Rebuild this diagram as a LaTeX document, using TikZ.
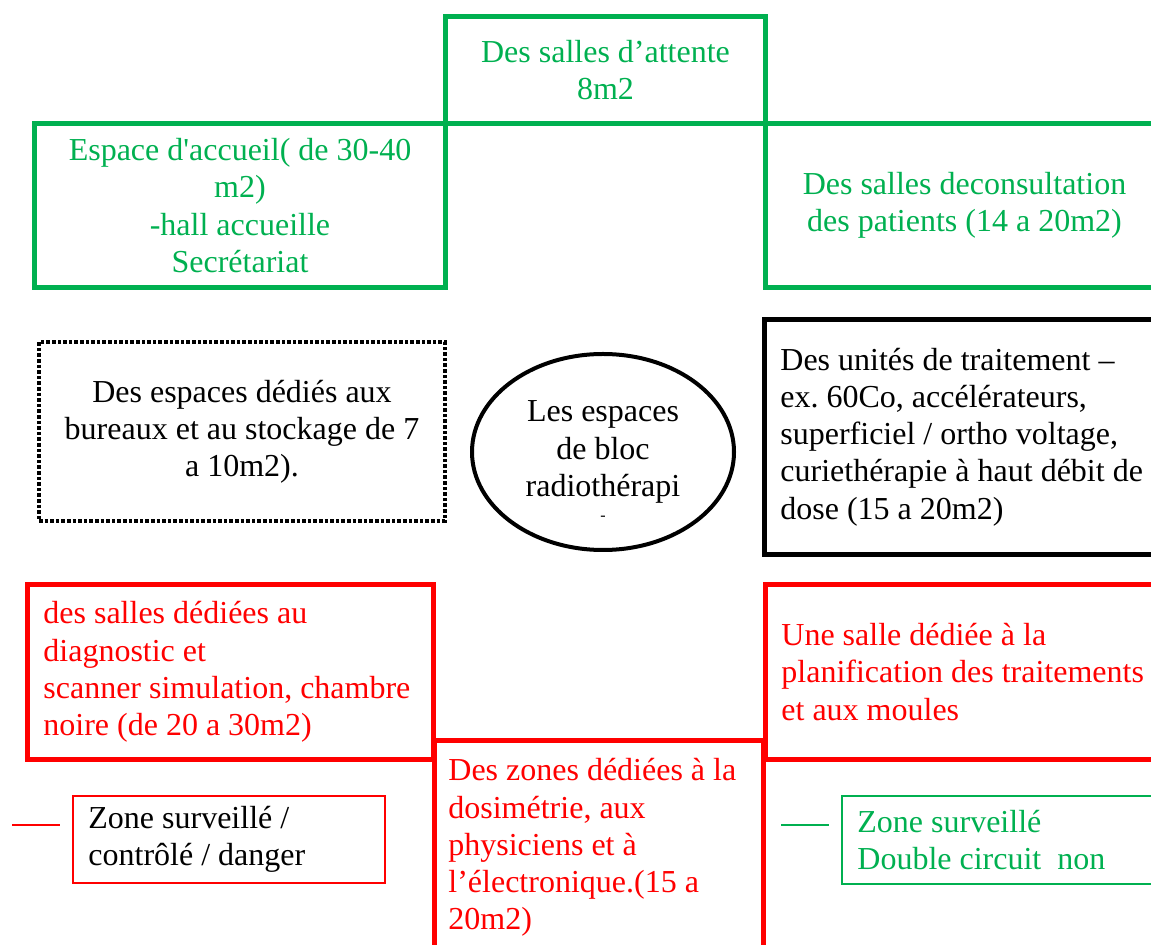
\documentclass[tikz,border=0pt]{standalone}
\usepackage{fontspec}
\setmainfont{Liberation Serif}
\usepackage{tikz}
\usetikzlibrary{shapes.geometric}
\definecolor{vert}{RGB}{0,176,80}
\definecolor{rouge}{RGB}{255,0,0}
\frenchspacing
\tikzset{every picture/.append style={x=0.5pt, y=-0.5pt}}
\tikzset{txt/.style={font=\fontsize{16}{18.6}\selectfont, inner sep=0pt}}
\tikzset{room/.style={txt, rectangle, line width=2.5pt, anchor=north west, align=center}}
\tikzset{roomtext/.style={txt, anchor=west, align=left}}
\tikzset{keybox/.style={rectangle, line width=0.75pt, anchor=north west}}
\tikzset{keyline/.style={line width=1pt}}

\begin{document}
\begin{tikzpicture}
\useasboundingbox (0,0) rectangle (1151,945);
\clip (0,0) rectangle (1151,945);

% green rooms
\node (attente) at (443,14)[room, draw=vert, text=vert, minimum width=160pt, minimum height=53.5pt]{Des salles d’attente\\8m2};
\node (accueil) at (32,121)[room, draw=vert, text=vert, minimum width=205.5pt, minimum height=82pt]{Espace d\textquotesingle accueil( de 30-40\\m2)\\-hall accueille\\Secrétariat};
\node (consult) at (763,121)[room, draw=vert, text=vert, minimum width=199pt, minimum height=82pt]{Des salles deconsultation\\des patients (14 a 20m2)};

% middle row
\node (bureaux) at (37,340)[room, draw=black, line width=2pt, dash pattern=on 1.8pt off 1pt, minimum width=203pt, minimum height=89.5pt]{Des espaces dédiés aux\\bureaux et au stockage de 7\\a 10m2).};
\node (bloc) at (603,452)[ellipse, draw, line width=2pt, minimum width=131pt, minimum height=98pt, txt, align=center]{Les espaces\\de bloc\\radiothérapi};
\node (blocdash) at (603,518)[txt, font=\fontsize{8}{9}\selectfont]{-};
\node (unites) at (762,317)[room, draw=black, minimum width=199.5pt, minimum height=117.5pt]{};
\node (unitestxt) at ([xshift=9pt]unites.west)[roomtext]{Des unités de traitement –\\ex. 60Co, accélérateurs,\\superficiel / ortho voltage,\\curiethérapie à haut débit de\\dose (15 a 20m2)};

% red rooms
\node (diag) at (25,582)[room, draw=rouge, minimum width=203pt, minimum height=87.5pt]{};
\node (diagtxt) at ([xshift=9pt]diag.west)[roomtext, text=rouge]{des salles dédiées au\\diagnostic et\\scanner simulation, chambre\\noire (de 20 a 30m2)};
\node (planif) at (763,582)[room, draw=rouge, minimum width=199pt, minimum height=87.5pt]{};
\node (planiftxt) at ([xshift=9pt]planif.west)[roomtext, text=rouge]{Une salle dédiée à la\\planification des traitements\\et aux moules};
\node (dosi) at (432,738)[room, draw=rouge, minimum width=164.5pt, minimum height=107pt]{};
\node (dositxt) at ([xshift=8pt]dosi.west)[roomtext, text=rouge]{Des zones dédiées à la\\dosimétrie, aux\\physiciens et à\\l’électronique.(15 a\\20m2)};

% legend
\node (keyrouge) at (72,795)[keybox, draw=rouge, minimum width=156pt, minimum height=43.5pt]{};
\node (keyrougetxt) at ([xshift=8pt]keyrouge.west)[roomtext]{Zone surveillé /\\contrôlé / danger};
\node (keyvert) at (841,795)[keybox, draw=vert, minimum width=170pt, minimum height=44pt]{};
\node (keyverttxt) at ([xshift=8pt]keyvert.west)[roomtext, text=vert]{Zone surveillé\\Double circuit~ non};
\coordinate (r1) at (12,825);
\coordinate (r2) at (60,825);
\draw[keyline, rouge] (r1) -- (r2);
\coordinate (v1) at (781,825);
\coordinate (v2) at (829,825);
\draw[keyline, vert] (v1) -- (v2);
\end{tikzpicture}
\end{document}
